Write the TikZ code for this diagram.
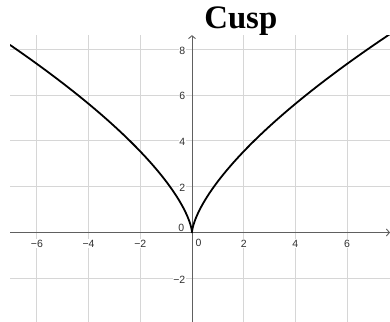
\documentclass[tikz,border=0pt]{standalone}
\usepackage{fontspec}
\setmainfont{Liberation Serif}
\newfontfamily\labfont{Liberation Sans}
\usetikzlibrary{arrows.meta}
\definecolor{gridc}{HTML}{D6D6D6}
\definecolor{axisc}{HTML}{606060}
\definecolor{labc}{HTML}{303030}
\tikzset{
  gridline/.style={draw=gridc, line width=0.8pt},
  axisline/.style={draw=axisc, line width=0.9pt, -{Straight Barb[length=3pt,width=7pt]}},
  ticklab/.style={font=\labfont\fontsize{10.5}{12}\selectfont, text=labc, fill=white, inner sep=0.8pt},
  curveline/.style={draw=black, line width=1.8pt, line join=round},
}
\begin{document}
\begin{tikzpicture}[x=25.85pt, y=22.9pt]
\useasboundingbox (-7.427,-3.908) rectangle (7.660,10.153);
% grid
\foreach \g in {-6,-4,-2,2,4,6} \draw[gridline] (\g,-3.908) -- (\g,8.62);
\foreach \g in {-2,2,4,6,8} \draw[gridline] (-7.04,\g) -- (7.66,\g);
% labels
\foreach \g/\t in {-6/−6,-4/−4,-2/−2,2/2,4/4,6/6}
  \node[ticklab] (xl\g) at (\g,-0.49) {\t};
\node[ticklab] (xl0) at (0.25,-0.45) {0};
\foreach \g/\t in {-2/−2,2/2,4/4,6/6,8/8}
  \node[ticklab, anchor=east] (yl\g) at (-0.22,\g-0.05) {\t};
\node[ticklab, anchor=east] (yl0) at (-0.26,0.2) {0};
% axes
\coordinate (xs) at (-7.04,0);
\coordinate (xe) at (7.66,0);
\coordinate (ys) at (0,-3.908);
\coordinate (ye) at (0,8.62);
\draw[axisline] (xs) -- (xe);
\draw[axisline] (ys) -- (ye);
% curve
\begin{scope}
\clip (-7.04,-3.908) rectangle (7.66,8.62);
\draw[curveline] plot[domain=-1.917:1.97, samples=200, smooth] ({\x*\x*\x},{2.23*\x*\x});
\end{scope}
% title
\node[font=\bfseries\fontsize{32.8}{36}\selectfont, anchor=base, inner sep=0pt] (title) at (1.888,8.917) {Cusp};
\end{tikzpicture}
\end{document}
